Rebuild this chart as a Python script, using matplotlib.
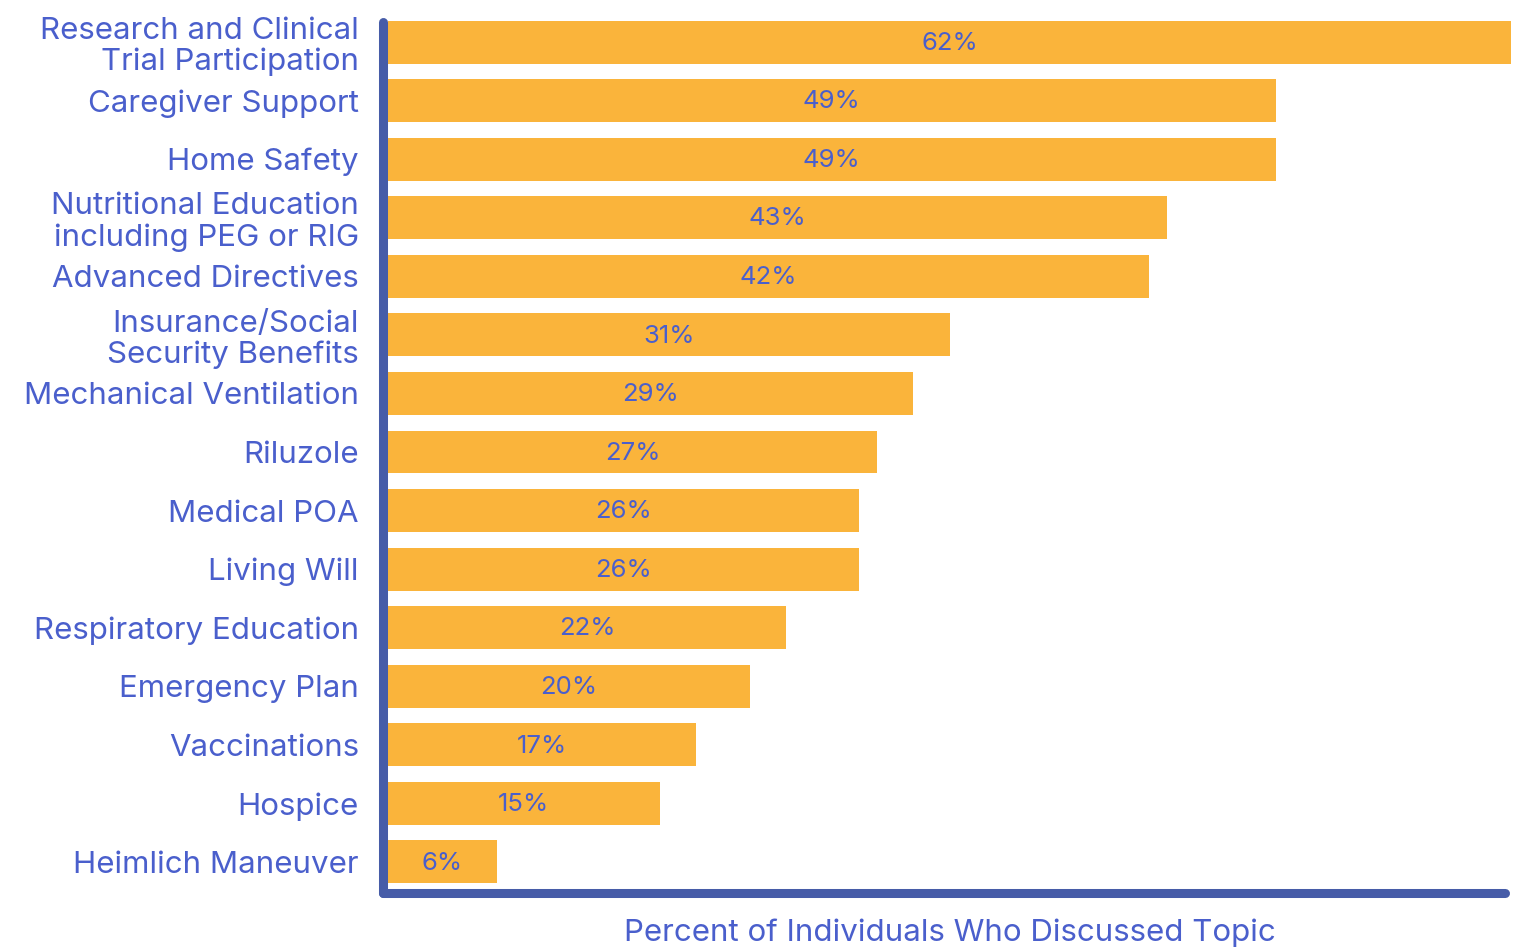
import numpy as np
import matplotlib
matplotlib.use("Agg")
import matplotlib.pyplot as plt

# topics, top to bottom, and share of individuals (%)
topics = [
    "Research and Clinical\nTrial Participation",
    "Caregiver Support",
    "Home Safety",
    "Nutritional Education\nincluding PEG or RIG",
    "Advanced Directives",
    "Insurance/Social\nSecurity Benefits",
    "Mechanical Ventilation",
    "Riluzole",
    "Medical POA",
    "Living Will",
    "Respiratory Education",
    "Emergency Plan",
    "Vaccinations",
    "Hospice",
    "Heimlich Maneuver",
]
percents = [62, 49, 49, 43, 42, 31, 29, 27, 26, 26, 22, 20, 17, 15, 6]

bar_color = "#FAB43B"
text_color = "#4A5FCC"
axis_color = "#465CA8"

plt.rcParams["font.family"] = ["Inter", "DejaVu Sans"]

fig = plt.figure(figsize=(15.18, 9.47), dpi=100)
ax = fig.add_axes([0.2556, 0.0570, 0.7398, 0.9324])

y = np.arange(len(topics))
bars = ax.barh(y, percents, height=0.734, color=bar_color, zorder=2)

for yi, v in zip(y, percents):
    ax.text(v / 2, yi + 0.02, f"{v}%", ha="center", va="center",
            color=text_color, fontsize=18.5, zorder=3)

ax.set_xlim(0, max(percents))
ax.set_ylim(14.53, -0.546)
ax.set_yticks(y)
ax.set_yticklabels(topics, fontsize=22.5, color=text_color, linespacing=1.12)
ax.tick_params(axis="y", length=0, pad=21)
ax.set_xticks([])
for s in ax.spines.values():
    s.set_visible(False)

# rounded axis lines
lw = 6.5
ax.plot([-0.0045, -0.0045], [0.0, 0.987], transform=ax.transAxes, color=axis_color,
        lw=lw, solid_capstyle="round", clip_on=False, zorder=4)
ax.plot([-0.0045, 0.9945], [0.0, 0.0], transform=ax.transAxes, color=axis_color,
        lw=lw, solid_capstyle="round", clip_on=False, zorder=4)

ax.set_xlabel("Percent of Individuals Who Discussed Topic", fontsize=22.5,
              color=text_color, labelpad=18)

fig.savefig("out.png", dpi=100)
